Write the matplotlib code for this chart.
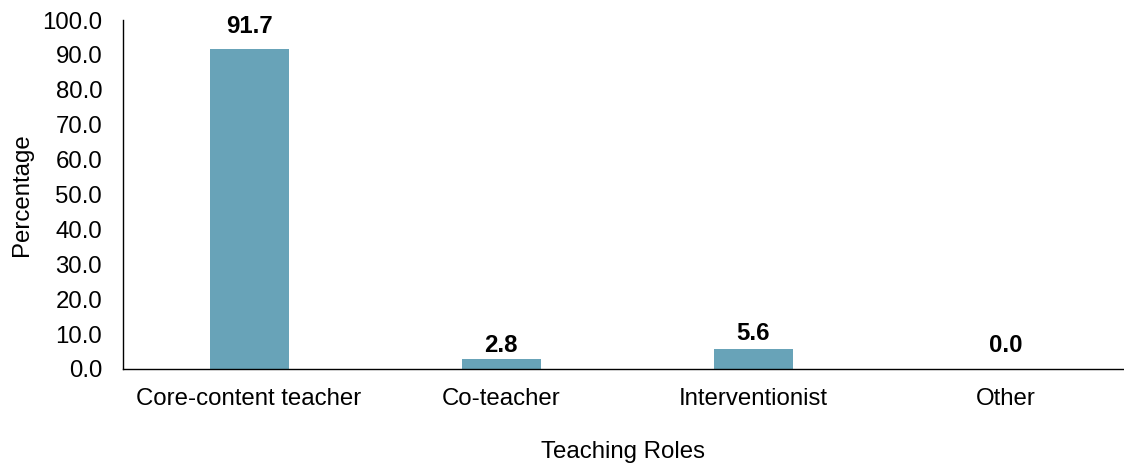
import matplotlib
matplotlib.use('Agg')
import matplotlib.pyplot as plt
import numpy as np

roles = ['Core-content teacher', 'Co-teacher', 'Interventionist', 'Other']
percent = [91.7, 2.8, 5.6, 0.0]

plt.rcParams['font.family'] = ['Liberation Sans', 'DejaVu Sans']
FS = 17.3

fig = plt.figure(figsize=(11.24, 4.66), dpi=100)
ax = fig.add_axes([0.1094, 0.2082, 0.8906, 0.7488])

x = np.arange(len(roles))
bars = ax.bar(x, percent, width=0.313, color='#68a3b8')

# label gap above each bar (points), as placed in the original
label_gap = [11.5, 5, 6.5, 12]
for b, v, g in zip(bars, percent, label_gap):
    ax.annotate(f'{v:.1f}', (b.get_x() + b.get_width() / 2, v),
                xytext=(0, g), textcoords='offset points',
                ha='center', va='baseline', fontsize=FS, fontweight='bold')

ax.set_xlim(-0.5, 3.47)
ax.set_ylim(0, 100)
yt = np.arange(0, 101, 10)
ax.set_yticks(yt)
ax.set_yticklabels([f'{t:.1f}' for t in yt])
ax.set_xticks(x)
ax.set_xticklabels(roles)
ax.tick_params(length=0, labelsize=FS)
ax.tick_params(axis='y', pad=15)
ax.tick_params(axis='x', pad=14)

for s in ['top', 'right']:
    ax.spines[s].set_visible(False)
ax.spines['left'].set_linewidth(1.0)
ax.spines['bottom'].set_linewidth(1.0)

ax.set_ylabel('Percentage', fontsize=FS)
ax.set_xlabel('Teaching Roles', fontsize=FS, va='top')
ax.yaxis.set_label_coords(-0.0899, 0.5)
ax.xaxis.set_label_coords(0.5, -0.205)

fig.savefig('out.png', dpi=100)
